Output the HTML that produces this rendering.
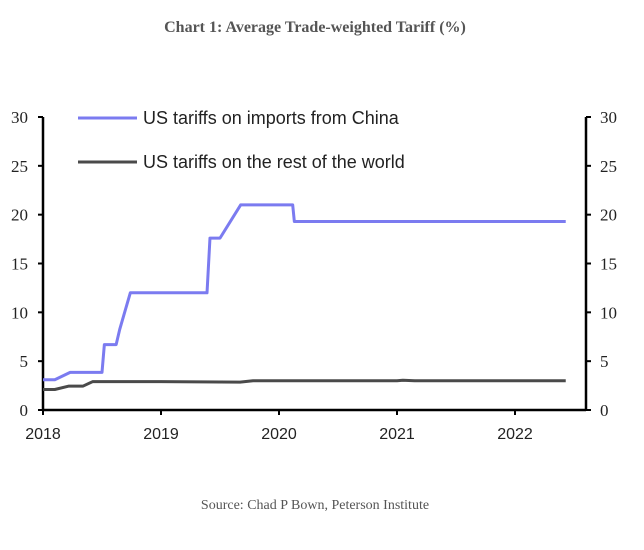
<!DOCTYPE html>
<html><head><meta charset="utf-8">
<style>
body{margin:0;background:#fff;width:644px;height:550px;overflow:hidden}
svg{display:block}
</style></head><body>
<svg id="chart" width="644" height="550">
<text x="315" y="32" text-anchor="middle" font-family="Liberation Serif, serif" font-weight="bold" font-size="16" fill="#555">Chart 1: Average Trade-weighted Tariff (%)</text>
<text x="315" y="509" text-anchor="middle" font-family="Liberation Serif, serif" font-size="14" fill="#555">Source: Chad P Bown, Peterson Institute</text>
<g id="axes"></g>
<g id="series"></g>
<line x1="78" y1="118" x2="137" y2="118" stroke="#7b7bf0" stroke-width="3"/>
<text x="143" y="124" font-family="Liberation Sans, sans-serif" font-size="18" fill="#222">US tariffs on imports from China</text>
<line x1="78" y1="162" x2="137" y2="162" stroke="#4a4a4a" stroke-width="3"/>
<text x="143" y="168" font-family="Liberation Sans, sans-serif" font-size="18" fill="#222">US tariffs on the rest of the world</text>
</svg>
<script>
const yTicks=[0,5,10,15,20,25,30];
const xTicks=[2018,2019,2020,2021,2022];
const chinaT=[0,0.1,0.23,0.5,0.52,0.62,0.65,0.74,1.39,1.415,1.5,1.675,2.116,2.13,4.43];
const chinaV=[3.1,3.1,3.85,3.85,6.7,6.7,8.25,12,12,17.6,17.6,21,21,19.3,19.3];
const rowT=[0,0.1,0.22,0.34,0.42,1.0,1.67,1.78,2.5,3.0,3.05,3.15,4.43];
const rowV=[2.1,2.1,2.45,2.45,2.9,2.9,2.85,3.0,3.0,3.0,3.05,3.0,3.0];
const ns="http://www.w3.org/2000/svg";
const X0=43,X1=586,Y0=410,Y1=117;
const xs=t=>X0+t*118;
const ys=v=>Y0-(v/30)*(Y0-Y1);
const axes=document.getElementById('axes'),ser=document.getElementById('series');
function mk(tag,attrs,parent){const e=document.createElementNS(ns,tag);for(const k in attrs)e.setAttribute(k,attrs[k]);parent.appendChild(e);return e;}
let e=mk('line',{x1:X0,y1:Y1,x2:X0,y2:Y0,stroke:'#000','stroke-width':2.5},axes);


e=mk('line',{x1:X1,y1:Y1,x2:X1,y2:Y0,stroke:'#000','stroke-width':2.5},axes);


e=mk('line',{x1:X0,y1:Y0,x2:X1,y2:Y0,stroke:'#000','stroke-width':2.5},axes);


yTicks.forEach(v=>{const y=ys(v);
 mk('line',{x1:X0-5,y1:y,x2:X0,y2:y,stroke:'#000','stroke-width':2},axes);
 mk('line',{x1:X1,y1:y,x2:X1+5,y2:y,stroke:'#000','stroke-width':2},axes);
 let t=mk('text',{x:28,y:y+6,'text-anchor':'end','font-family':'Liberation Serif, serif','font-size':17,fill:'#222'},axes);t.textContent=v;
 
 
 t=mk('text',{x:600,y:y+6,'font-family':'Liberation Serif, serif','font-size':17,fill:'#222'},axes);t.textContent=v;
 
 
});
xTicks.forEach(yr=>{const x=xs(yr-2018);
 mk('line',{x1:x,y1:Y0,x2:x,y2:Y0+5,stroke:'#000','stroke-width':2},axes);
 const t=mk('text',{x:x,y:439,'text-anchor':'middle','font-family':'Liberation Sans, sans-serif','font-size':16,fill:'#222'},axes);t.textContent=yr;
 
 
});
function line(T,V,color,name){const p=mk('polyline',{points:T.map((t,i)=>xs(t)+','+ys(V[i])).join(' '),fill:'none',stroke:color,'stroke-width':3,'stroke-linejoin':'round'},ser);
 
 }
line(rowT,rowV,'#4a4a4a','rest-of-world-line');
line(chinaT,chinaV,'#7b7bf0','china-line');
</script>
</body></html>
